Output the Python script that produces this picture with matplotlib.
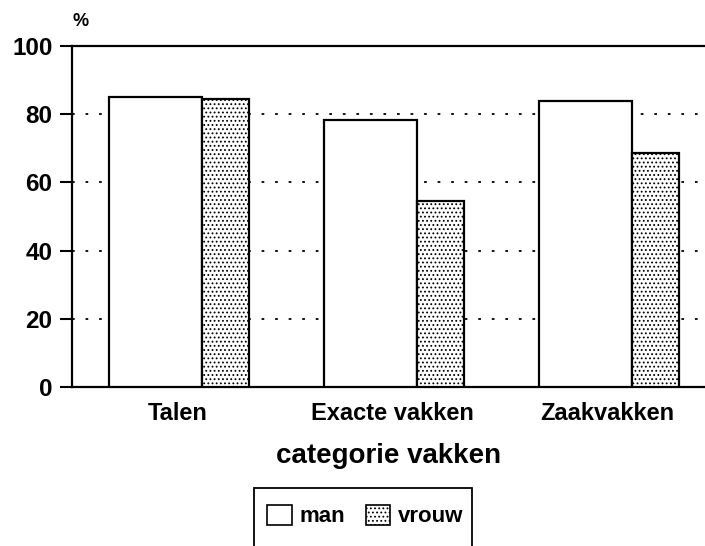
import matplotlib.pyplot as plt
from matplotlib.patches import Patch, Rectangle

categories = ["Talen", "Exacte vakken", "Zaakvakken"]
man = [85.0, 78.3, 84.0]
vrouw = [84.5, 54.5, 68.5]
yticks = [0, 20, 40, 60, 80, 100]

plt.rcParams['font.family'] = ['Liberation Sans', 'DejaVu Sans']
plt.rcParams['font.weight'] = 'bold'
plt.rcParams['hatch.linewidth'] = 0.8

fig = plt.figure(figsize=(7.05, 5.46), dpi=100)
ax = fig.add_axes([72 / 705, 1 - 387 / 546, 1 - 72 / 705, (387 - 46) / 546])

x = list(range(len(categories)))
ax.bar([i - 0.326 for i in x], man, width=0.433, align='edge',
       color='white', edgecolor='black', linewidth=1.6, zorder=3)
ax.bar([i + 0.107 for i in x], vrouw, width=0.219, align='edge',
       color='white', edgecolor='black', hatch='....', linewidth=1.6, zorder=3)

ax.set_xlim(-0.5, 2.447)
ax.set_ylim(0, 100)
ax.set_yticks(yticks)
ax.set_yticklabels([str(t) for t in yticks], fontsize=17.5, fontweight='bold')
ax.set_xticks([i - 0.01 for i in x])
ax.set_xticklabels(categories, fontsize=17, fontweight='bold')
ax.tick_params(axis='x', length=0, pad=11)
ax.tick_params(axis='y', length=9, width=1.5, pad=5)

ax.grid(axis='y', linestyle=(0, (1.5, 6)), color='black', linewidth=1.3, zorder=0)
ax.set_axisbelow(True)
for s in ['left', 'bottom', 'top']:
    ax.spines[s].set_linewidth(1.6)
ax.spines['right'].set_visible(False)

ax.set_xlabel("categorie vakken", fontsize=20, fontweight='bold', labelpad=13)
fig.text(81 / 705, 1 - 21 / 546, "%", fontsize=13, fontweight='bold',
         ha='center', va='center')

handles = [Patch(facecolor='white', edgecolor='black', linewidth=1.2, label='man'),
           Patch(facecolor='white', edgecolor='black', linewidth=1.2, hatch='....', label='vrouw')]
fig.legend(handles=handles, loc='center left', bbox_to_anchor=(267 / 705, 1 - 516 / 546),
           ncol=2, frameon=False, handlelength=1.12, handleheight=1.05,
           handletextpad=0.36, columnspacing=0.9, borderaxespad=0, borderpad=0,
           prop={'weight': 'bold', 'size': 16})
fig.patches.append(Rectangle((254 / 705, -0.05), (472 - 254) / 705, 0.05 + 1 - 488 / 546,
                             transform=fig.transFigure, fill=False,
                             edgecolor='black', linewidth=1.3))

fig.savefig("out.png", dpi=100)
